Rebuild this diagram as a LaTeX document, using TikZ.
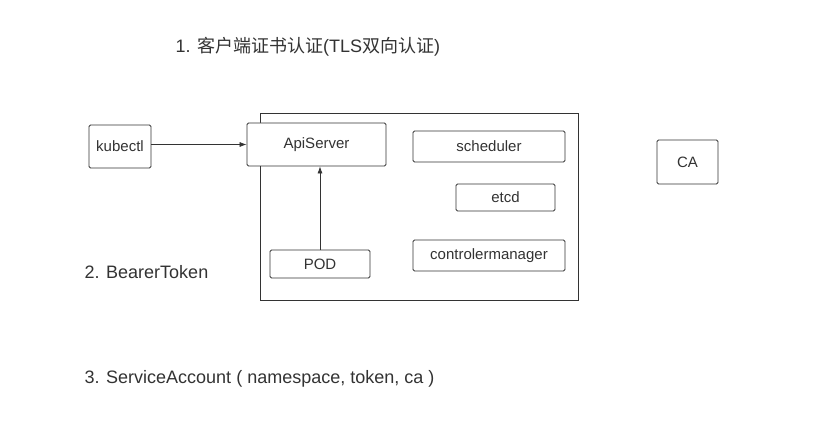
\documentclass[tikz,border=0pt]{standalone}
\usepackage{fontspec}
\setmainfont{Liberation Sans}
\newfontfamily\cjk{Noto Sans CJK SC}
\usetikzlibrary{arrows.meta}
\definecolor{ink}{HTML}{333333}

\begin{document}
\begin{tikzpicture}[x=1pt, y=-1pt, every node/.style={font=\fontsize{15}{18}\selectfont, text=ink},
    box/.style={draw=ink, fill=white, line width=0.8pt, rounded corners=1.5pt, inner sep=0pt},
    label/.style={anchor=west, font=\fontsize{18}{22}\selectfont}]
      \useasboundingbox[fill=white] (0,0) rectangle (836,441);
      % cluster box
      \draw[ink, line width=0.8pt] (260,113) rectangle (578,300);
      % components inside the cluster
      \node[box, minimum width=139pt, minimum height=43pt] (api) at (316.5,144.5) {ApiServer};
      \node[box, minimum width=152pt, minimum height=31pt] (sched) at (489,146.5) {scheduler};
      \node[box, minimum width=99pt, minimum height=27pt] (etcd) at (505.5,197.5) {etcd};
      \node[box, minimum width=152pt, minimum height=31pt] (ctrl) at (489,255.5) {controlermanager};
      \node[box, minimum width=100pt, minimum height=28pt] (pod) at (320,264) {POD};
      % clients and CA outside
      \node[box, minimum width=62pt, minimum height=43pt] (kubectl) at (120,146.5) {kubectl};
      \node[box, minimum width=61pt, minimum height=44pt] (ca) at (687.5,162) {CA};
      % requests to the ApiServer
      \draw[-{Latex[length=7pt,width=5pt]}, ink, line width=0.7pt] (kubectl.east |- api.west) -- (api.west);
      \draw[-{Latex[length=7pt,width=5pt]}, ink, line width=0.7pt] (pod.north) -- (pod.north |- api.south);
      % the three ways to authenticate
      \node[label] (tls) at (172,47) {1. {\cjk 客户端证书认证}(TLS{\cjk 双向认证})};
      \node[label] (bearer) at (81,272) {2. BearerToken};
      \node[label] (sa) at (81,379) {3. ServiceAccount ( namespace, token, ca )};
\end{tikzpicture}
\end{document}
